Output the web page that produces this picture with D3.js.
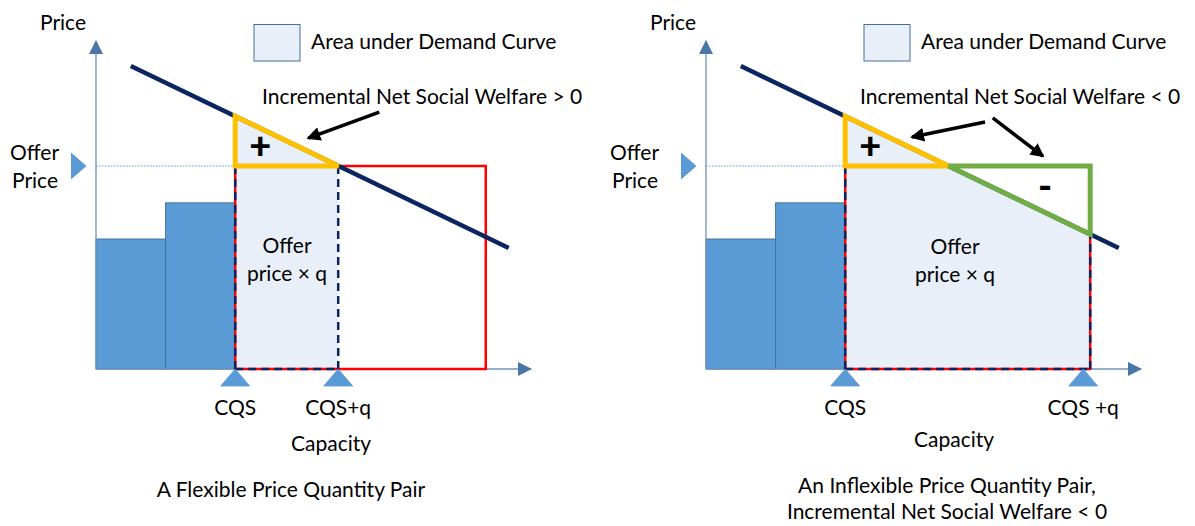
<!DOCTYPE html>
<html><head><meta charset="utf-8">
<script src="https://cdn.jsdelivr.net/npm/d3@7"></script>
<style>
body{margin:0;background:#fff}
text{font-family:Lato,"Open Sans",sans-serif;fill:#000;font-size:21px}
</style>
</head><body><svg id="c" width="1195" height="526"></svg>
<script>
// ---- data ----
const barEdges = [0, 1, 2];          // capacity boundaries of the cleared bars
const barPrices = [39.5, 50.5];      // prices of the cleared bars
const offerPrice = 61.7;
const demandPts = [{q: 0.5, p: 92.1}, {q: 5.93, p: 36.8}];
const capMax = 6.25, priceMax = 100;
const cqsValues = [2, 2];
const cqsPlusQ = [3.48, 5.52];
const redRight = [5.6, 5.52];
const markerQ = [[2, 3.48], [2, 5.42]];
const markerLabels = [["CQS", "CQS+q"], ["CQS", "CQS +q"]];
const annotations = ["Incremental Net Social Welfare > 0", "Incremental Net Social Welfare < 0"];
const titles = [["A Flexible Price Quantity Pair"], ["An Inflexible Price Quantity Pair,", "Incremental Net Social Welfare < 0"]];
const arrows = [
  [{from: [4.07, 78.1], to: [3.05, 70.2]}],
  [{from: [4.01, 75.1], to: [2.96, 70.5]}, {from: [4.12, 76.3], to: [4.84, 64.7]}]
];
const legendLabel = "Area under Demand Curve";

const svg = d3.select("#c");
const defs = svg.append("defs");
defs.append("marker").attr("id", "ah").attr("markerUnits", "userSpaceOnUse")
  .attr("viewBox", "0 0 14 14").attr("refX", 12).attr("refY", 7)
  .attr("markerWidth", 14).attr("markerHeight", 14).attr("orient", "auto")
  .append("path").attr("d", "M0,0 L14,7 L0,14 z").attr("fill", "#000");
defs.append("marker").attr("id", "axh").attr("markerUnits", "userSpaceOnUse")
  .attr("viewBox", "0 0 14 14").attr("refX", 13).attr("refY", 7)
  .attr("markerWidth", 14).attr("markerHeight", 14).attr("orient", "auto")
  .append("path").attr("d", "M0,0 L14,7 L0,14 z").attr("fill", "#4a76a8");

const demand = q => {
  const [a, b] = demandPts;
  return a.p + (q - a.q) * (b.p - a.p) / (b.q - a.q);
};
const qStar = demandPts[0].q + (demandPts[0].p - offerPrice) * (demandPts[1].q - demandPts[0].q) / (demandPts[0].p - demandPts[1].p);

const y = d3.scaleLinear([0, priceMax], [369, 40]);
const fillC = "#e8eff8", navy = "#0b2560";

[0, 1].forEach(i => {
  const off = i * 610;
  const x = d3.scaleLinear([0, capMax], [96 + off, 531 + off]);
  const g = svg.append("g");
  const cqs = cqsValues[i], cq = cqsPlusQ[i];
  const line = d3.line().x(d => x(d[0])).y(d => y(d[1]));

  // area under demand curve between CQS and CQS+q
  g.append("path").attr("d", line([[cqs, 0], [cqs, demand(cqs)], [cq, demand(cq)], [cq, 0]]) + "Z")
    .attr("fill", fillC);

  // bars
  g.selectAll(".bar").data(barPrices).join("rect")
    .attr("x", (d, j) => x(barEdges[j])).attr("width", (d, j) => x(barEdges[j + 1]) - x(barEdges[j]))
    .attr("y", d => y(d)).attr("height", d => y(0) - y(d))
    .attr("fill", "#5b9bd5").attr("stroke", "#41719c").attr("stroke-width", 1);

  // axes
  g.append("line").attr("x1", x(0)).attr("x2", x(0)).attr("y1", y(0)).attr("y2", 41)
    .attr("stroke", "#6f93bf").attr("stroke-width", 1.3).attr("marker-end", "url(#axh)");
  g.append("line").attr("x1", x(0)).attr("x2", x(capMax)).attr("y1", y(0)).attr("y2", y(0))
    .attr("stroke", "#6f93bf").attr("stroke-width", 1.3).attr("marker-end", "url(#axh)");

  // offer price dotted guide
  g.append("line").attr("x1", x(0)).attr("x2", x(cqs)).attr("y1", y(offerPrice)).attr("y2", y(offerPrice))
    .attr("stroke", "#5b9bd5").attr("stroke-width", 1).attr("stroke-dasharray", "1.5,1.5");

  // red offer rectangle
  g.append("rect").attr("x", x(cqs)).attr("y", y(offerPrice))
    .attr("width", x(redRight[i]) - x(cqs)).attr("height", y(0) - y(offerPrice))
    .attr("fill", "none").attr("stroke", "#ff0000").attr("stroke-width", 2.5);

  // navy dashes
  const dash = [[[cqs, 0], [cqs, offerPrice]], [[cq, 0], [cq, offerPrice]], [[cqs, 0], [cq, 0]]];
  g.selectAll(".dash").data(dash).join("path").attr("d", d => line(d))
    .attr("fill", "none").attr("stroke", navy).attr("stroke-width", 2.5).attr("stroke-dasharray", "8,5");

  // demand curve
  g.append("path").attr("d", line(demandPts.map(d => [d.q, d.p])))
    .attr("stroke", navy).attr("stroke-width", 4.5).attr("fill", "none");

  // positive welfare triangle
  g.append("path").attr("d", line([[cqs, demand(cqs)], [cqs, offerPrice], [qStar, offerPrice]]) + "Z")
    .attr("fill", "none").attr("stroke", "#ffc000").attr("stroke-width", 5).attr("stroke-linejoin", "miter");
  // negative welfare triangle
  if (cq > qStar + 0.1) {
    g.append("path").attr("d", line([[qStar, offerPrice], [cq, offerPrice], [cq, demand(cq)]]) + "Z")
      .attr("fill", "none").attr("stroke", "#70ad47").attr("stroke-width", 5).attr("stroke-linejoin", "miter");
  }

  // capacity markers
  g.selectAll(".cm").data(markerQ[i]).join("path")
    .attr("d", d => `M${x(d)},${y(0)} L${x(d) + 14.5},${y(0) + 17} L${x(d) - 14.5},${y(0) + 17} Z`)
    .attr("fill", "#5b9bd5").attr("stroke", "#5b9bd5").attr("stroke-width", 0.8);
  g.selectAll(".cl").data(markerQ[i]).join("text")
    .attr("x", d => x(d)).attr("y", 415).attr("text-anchor", "middle")
    .text((d, j) => markerLabels[i][j]);

  // offer price marker
  const yo = y(offerPrice);
  g.append("path").attr("d", `M${x(0) - 25},${yo - 13.5} L${x(0) - 9.5},${yo} L${x(0) - 25},${yo + 13.5} Z`)
    .attr("fill", "#5b9bd5");
  g.append("text").attr("x", i ? 610 : 10).attr("y", 160).text("Offer");
  g.append("text").attr("x", i ? 612 : 12).attr("y", 188).text("Price");

  // axis titles
  g.append("text").attr("x", x(0) - 33).attr("y", 30).attr("text-anchor", "middle").text("Price");
  g.append("text").attr("x", i ? 954 : 331).attr("y", i ? 447 : 451).attr("text-anchor", "middle").text("Capacity");

  // legend
  g.append("rect").attr("x", x(0) + 158).attr("y", 24.5).attr("width", 46).attr("height", 36.5)
    .attr("fill", fillC).attr("stroke", "#41719c").attr("stroke-width", 1);
  g.append("text").attr("x", x(0) + 215).attr("y", 49).text(legendLabel);

  // annotation
  g.append("text").attr("x", i ? 860 : 262).attr("y", 104).text(annotations[i]);
  g.selectAll(".ar").data(arrows[i]).join("line")
    .attr("x1", d => x(d.from[0])).attr("y1", d => y(d.from[1]))
    .attr("x2", d => x(d.to[0])).attr("y2", d => y(d.to[1]))
    .attr("stroke", "#000").attr("stroke-width", 3.5).attr("marker-end", "url(#ah)");

  // signs
  g.append("text").attr("x", x(cqs) + 25).attr("y", 159).attr("text-anchor", "middle")
    .style("font-size", "38px").style("font-weight", "900").text("+");
  if (i === 1) {
    g.append("text").attr("x", 1045).attr("y", 199).attr("text-anchor", "middle")
      .style("font-size", "38px").style("font-weight", "900").text("-");
  }

  // offer price × q
  const cx = i ? 955 : 287;
  g.append("text").attr("x", cx).attr("y", i ? 254 : 253).attr("text-anchor", "middle").text("Offer");
  g.append("text").attr("x", cx).attr("y", i ? 282 : 281).attr("text-anchor", "middle").text("price × q");

  // title
  g.selectAll(".tt").data(titles[i]).join("text")
    .attr("x", i ? 947 : 291).attr("y", (d, j) => (i ? 493 : 497) + j * 26)
    .attr("text-anchor", "middle").text(d => d);
});
</script>
</body></html>
